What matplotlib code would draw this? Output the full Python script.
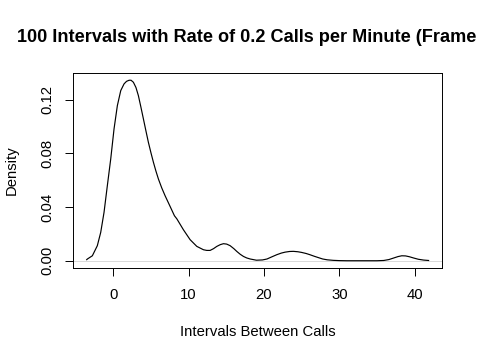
import matplotlib
matplotlib.use("Agg")
import matplotlib.pyplot as plt

# Density curve
interval_x = [-3.54, -3.45, -2.79, -2.13, -1.68, -1.24, -0.80, -0.35, 0.09, 0.53,
              0.98, 1.42, 1.75, 2.09, 2.35, 2.66, 3.0, 3.32, 3.65, 3.99,
              4.32, 4.65, 5.0, 5.32, 5.65, 5.98, 6.42, 6.87, 7.53, 8.11,
              8.43, 9.30, 10.19, 11.08, 11.96, 12.4, 12.85, 13.3, 13.74, 14.2,
              14.62, 15.05, 15.51, 16.0, 16.40, 16.85, 17.28, 17.7, 18.17, 19.0,
              19.8, 20.4, 21.0, 21.7, 22.3, 22.8, 23.4, 23.9, 24.5, 25.0,
              25.6, 26.1, 26.7, 27.3, 27.8, 28.4, 29.2, 30.0, 31.0, 32.0,
              33.0, 34.0, 35.0, 35.9, 36.6, 37.2, 37.8, 38.3, 38.8, 39.3,
              39.9, 40.5, 41.2, 41.86]
density_y = [0.0008, 0.0013, 0.0037, 0.0112, 0.0211, 0.036, 0.0559, 0.0758, 0.0982, 0.1155,
             0.1267, 0.1317, 0.1336, 0.1344, 0.1344, 0.1329, 0.1290, 0.1230, 0.1146, 0.1056,
             0.0968, 0.0882, 0.0802, 0.0733, 0.0668, 0.0609, 0.0543, 0.0484, 0.0405, 0.0335,
             0.0312, 0.0231, 0.0157, 0.0107, 0.0082, 0.0077, 0.0077, 0.0090, 0.0107, 0.0120,
             0.0127, 0.0124, 0.0112, 0.0090, 0.0069, 0.0048, 0.0032, 0.0021, 0.0013, 0.0004,
             0.0006, 0.0013, 0.0028, 0.0045, 0.0057, 0.0064, 0.0069, 0.0070, 0.0067, 0.0062,
             0.0054, 0.0045, 0.0033, 0.0022, 0.0013, 0.0007, 0.0003, 0.0001, 0.0, 0.0,
             0.0, 0.0, 0.0, 0.0002, 0.0009, 0.0020, 0.0031, 0.0037, 0.0036, 0.0030,
             0.0020, 0.0011, 0.0005, 0.0002]

x_ticks = [0, 10, 20, 30, 40]
y_ticks = [0.00, 0.04, 0.08, 0.12]
y_tick_labels = ["0.00", "0.04", "0.08", "0.12"]

title = "100 Intervals with Rate of 0.2 Calls per Minute (Frame 1)"
x_label = "Intervals Between Calls"
y_label = "Density"

plt.rcParams['font.family'] = ['Liberation Sans', 'DejaVu Sans']

W, H = 480, 360
fig = plt.figure(figsize=(4.8, 3.6), dpi=100)
ax = fig.add_axes([73 / W, 1 - 268 / H, (442.3 - 73) / W, (268 - 73) / H])

ax.axhline(0, color='#bebebe', lw=0.4, zorder=1)
ax.plot(interval_x, density_y, color='black', lw=0.85, zorder=2,
        solid_joinstyle='round')

ax.set_xlim(-5.36, 43.68)
ax.set_ylim(-0.0054, 0.1398)

ax.set_xticks(x_ticks)
ax.set_yticks(y_ticks)
ax.set_yticklabels(y_tick_labels, rotation=90, va='center')

ax.tick_params(axis='both', direction='out', length=5.6, width=0.7,
               labelsize=10.7, color='black')
ax.tick_params(axis='x', pad=8.9)
ax.tick_params(axis='y', pad=7.8)

for s in ax.spines.values():
    s.set_linewidth(0.7)
    s.set_color('black')

fig.text(257.5 / W, 1 - 41.7 / H, title, ha='center', va='baseline',
         fontsize=13.1, fontweight='bold')
fig.text(257.5 / W, 1 - 331.7 / H, x_label, ha='center', va='center', fontsize=10.7)
fig.text(11.7 / W, 1 - 170.5 / H, y_label, ha='center', va='center',
         rotation=90, fontsize=10.7)

fig.savefig("out.png", dpi=100)
